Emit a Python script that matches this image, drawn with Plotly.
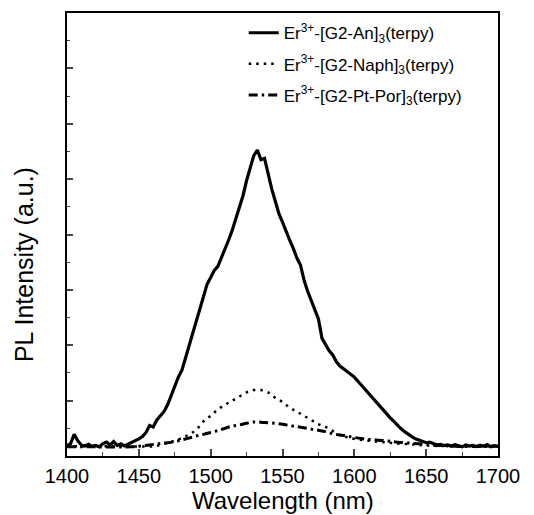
import plotly.graph_objects as go

wl_an = [1400 + 2.5 * i for i in range(121)]
pl_an = [0.38, 0.45, 0.78, 0.55, 0.40, 0.36, 0.42, 0.35, 0.38, 0.33,
         0.45, 0.50, 0.40, 0.52, 0.38, 0.44, 0.36, 0.42, 0.48, 0.55,
         0.62, 0.70, 0.85, 1.10, 1.05, 1.30, 1.45, 1.60, 1.85, 2.20,
         2.50, 2.85, 3.10, 3.55, 4.00, 4.40, 4.95, 5.30, 5.75, 6.20,
         6.45, 6.70, 6.85, 7.15, 7.45, 7.80, 8.15, 8.55, 9.00, 9.40,
         9.95, 10.45, 10.85, 11.05, 10.70, 10.75, 10.15, 9.65, 9.20, 8.75,
         8.45, 8.10, 7.80, 7.50, 7.15, 6.90, 6.35, 5.95, 5.60, 5.30,
         4.95, 4.25, 4.00, 3.80, 3.65, 3.40, 3.25, 3.15, 3.05, 2.95,
         2.85, 2.70, 2.55, 2.40, 2.25, 2.10, 1.95, 1.80, 1.65, 1.50,
         1.38, 1.25, 1.10, 0.98, 0.88, 0.78, 0.70, 0.62, 0.58, 0.52,
         0.48, 0.50, 0.44, 0.40, 0.42, 0.38, 0.40, 0.36, 0.41, 0.37,
         0.33, 0.40, 0.36, 0.38, 0.34, 0.39, 0.35, 0.41, 0.33, 0.37,
         0.35]

wl_naph = [1400, 1420, 1440, 1460, 1465, 1470, 1475, 1480, 1485, 1490,
           1495, 1500, 1505, 1510, 1515, 1520, 1525, 1530, 1535, 1540,
           1545, 1550, 1555, 1560, 1565, 1570, 1575, 1580, 1585, 1590,
           1595, 1600, 1610, 1620, 1630, 1640, 1650, 1670, 1700]
pl_naph = [0.35, 0.35, 0.35, 0.35, 0.40, 0.48, 0.55, 0.65, 0.78, 0.95,
           1.25, 1.45, 1.68, 1.85, 2.00, 2.15, 2.30, 2.38, 2.38, 2.30,
           2.10, 1.95, 1.75, 1.60, 1.45, 1.30, 1.15, 1.05, 0.90, 0.75,
           0.68, 0.62, 0.55, 0.50, 0.45, 0.42, 0.38, 0.35, 0.35]

wl_por = [1400, 1420, 1445, 1450, 1455, 1460, 1465, 1470, 1475, 1480,
          1485, 1490, 1495, 1500, 1505, 1510, 1515, 1520, 1525, 1530,
          1535, 1540, 1545, 1550, 1555, 1560, 1565, 1570, 1575, 1580,
          1585, 1590, 1595, 1600, 1605, 1610, 1615, 1620, 1625, 1630,
          1640, 1650, 1660, 1670, 1700]
pl_por = [0.33, 0.33, 0.33, 0.35, 0.38, 0.42, 0.45, 0.48, 0.52, 0.58,
          0.65, 0.72, 0.78, 0.85, 0.92, 1.00, 1.08, 1.12, 1.18, 1.23,
          1.22, 1.20, 1.18, 1.15, 1.10, 1.06, 1.02, 0.97, 0.93, 0.88,
          0.80, 0.76, 0.72, 0.67, 0.63, 0.60, 0.58, 0.56, 0.53, 0.50,
          0.46, 0.42, 0.38, 0.35, 0.35]

names = ["Er<sup>3+</sup>-[G2-An]<sub>3</sub>(terpy)",
         "Er<sup>3+</sup>-[G2-Naph]<sub>3</sub>(terpy)",
         "Er<sup>3+</sup>-[G2-Pt-Por]<sub>3</sub>(terpy)"]

x_ticks = [1400, 1450, 1500, 1550, 1600, 1650, 1700]
x_title = "Wavelength (nm)"
y_title = "PL Intensity (a.u.)"

fig = go.Figure()
fig.add_trace(go.Scatter(x=wl_an, y=pl_an, mode="lines", name=names[0], legendgroup="a",
                         line=dict(color="black", width=3.2)))
fig.add_trace(go.Scatter(x=wl_naph, y=pl_naph, mode="lines", name=names[1], legendgroup="b",
                         line=dict(color="black", width=2.5, dash="2.5px,5px", shape="spline")))
fig.add_trace(go.Scatter(x=wl_por, y=pl_por, mode="lines", name=names[2], legendgroup="c",
                         line=dict(color="black", width=3, dash="9px,4px,2.5px,4px", shape="spline")))

font = "Liberation Sans, Arial, sans-serif"
fig.update_layout(
    width=534, height=515,
    margin=dict(l=67, r=36, t=13, b=59),
    paper_bgcolor="white", plot_bgcolor="white",
    font=dict(family=font, color="black", size=17),
    showlegend=True,
    legend=dict(x=0.41, y=0.995, xanchor="left", yanchor="top",
                bgcolor="rgba(0,0,0,0)", font=dict(size=17, family=font),
                tracegroupgap=6),
    xaxis=dict(range=[1400, 1700], tickvals=x_ticks, ticks="inside", ticklen=7,
               tickwidth=1.5, showline=True, linewidth=2, linecolor="black",
               mirror=True, showgrid=False, zeroline=False, automargin=False,
               minor=dict(dtick=25, ticks="inside", ticklen=4, tickwidth=1),
               tickfont=dict(size=20), ticklabelstandoff=1),
    yaxis=dict(range=[0, 16], dtick=2, ticks="inside", ticklen=6, tickwidth=1.5,
               showticklabels=False, showline=True, linewidth=2, linecolor="black",
               mirror=True, showgrid=False, zeroline=False, automargin=False,
               minor=dict(dtick=1, ticks="inside", ticklen=3, tickwidth=1)),
    annotations=[
        dict(text=x_title, xref="paper", yref="paper", x=0.5, y=-0.1,
             xanchor="center", yanchor="middle", showarrow=False,
             font=dict(size=24, family=font)),
        dict(text=y_title, xref="paper", yref="paper", x=-0.1, y=0.433,
             xanchor="center", yanchor="middle", showarrow=False, textangle=-90,
             font=dict(size=25, family=font)),
    ],
)

fig.write_html("out.html")
